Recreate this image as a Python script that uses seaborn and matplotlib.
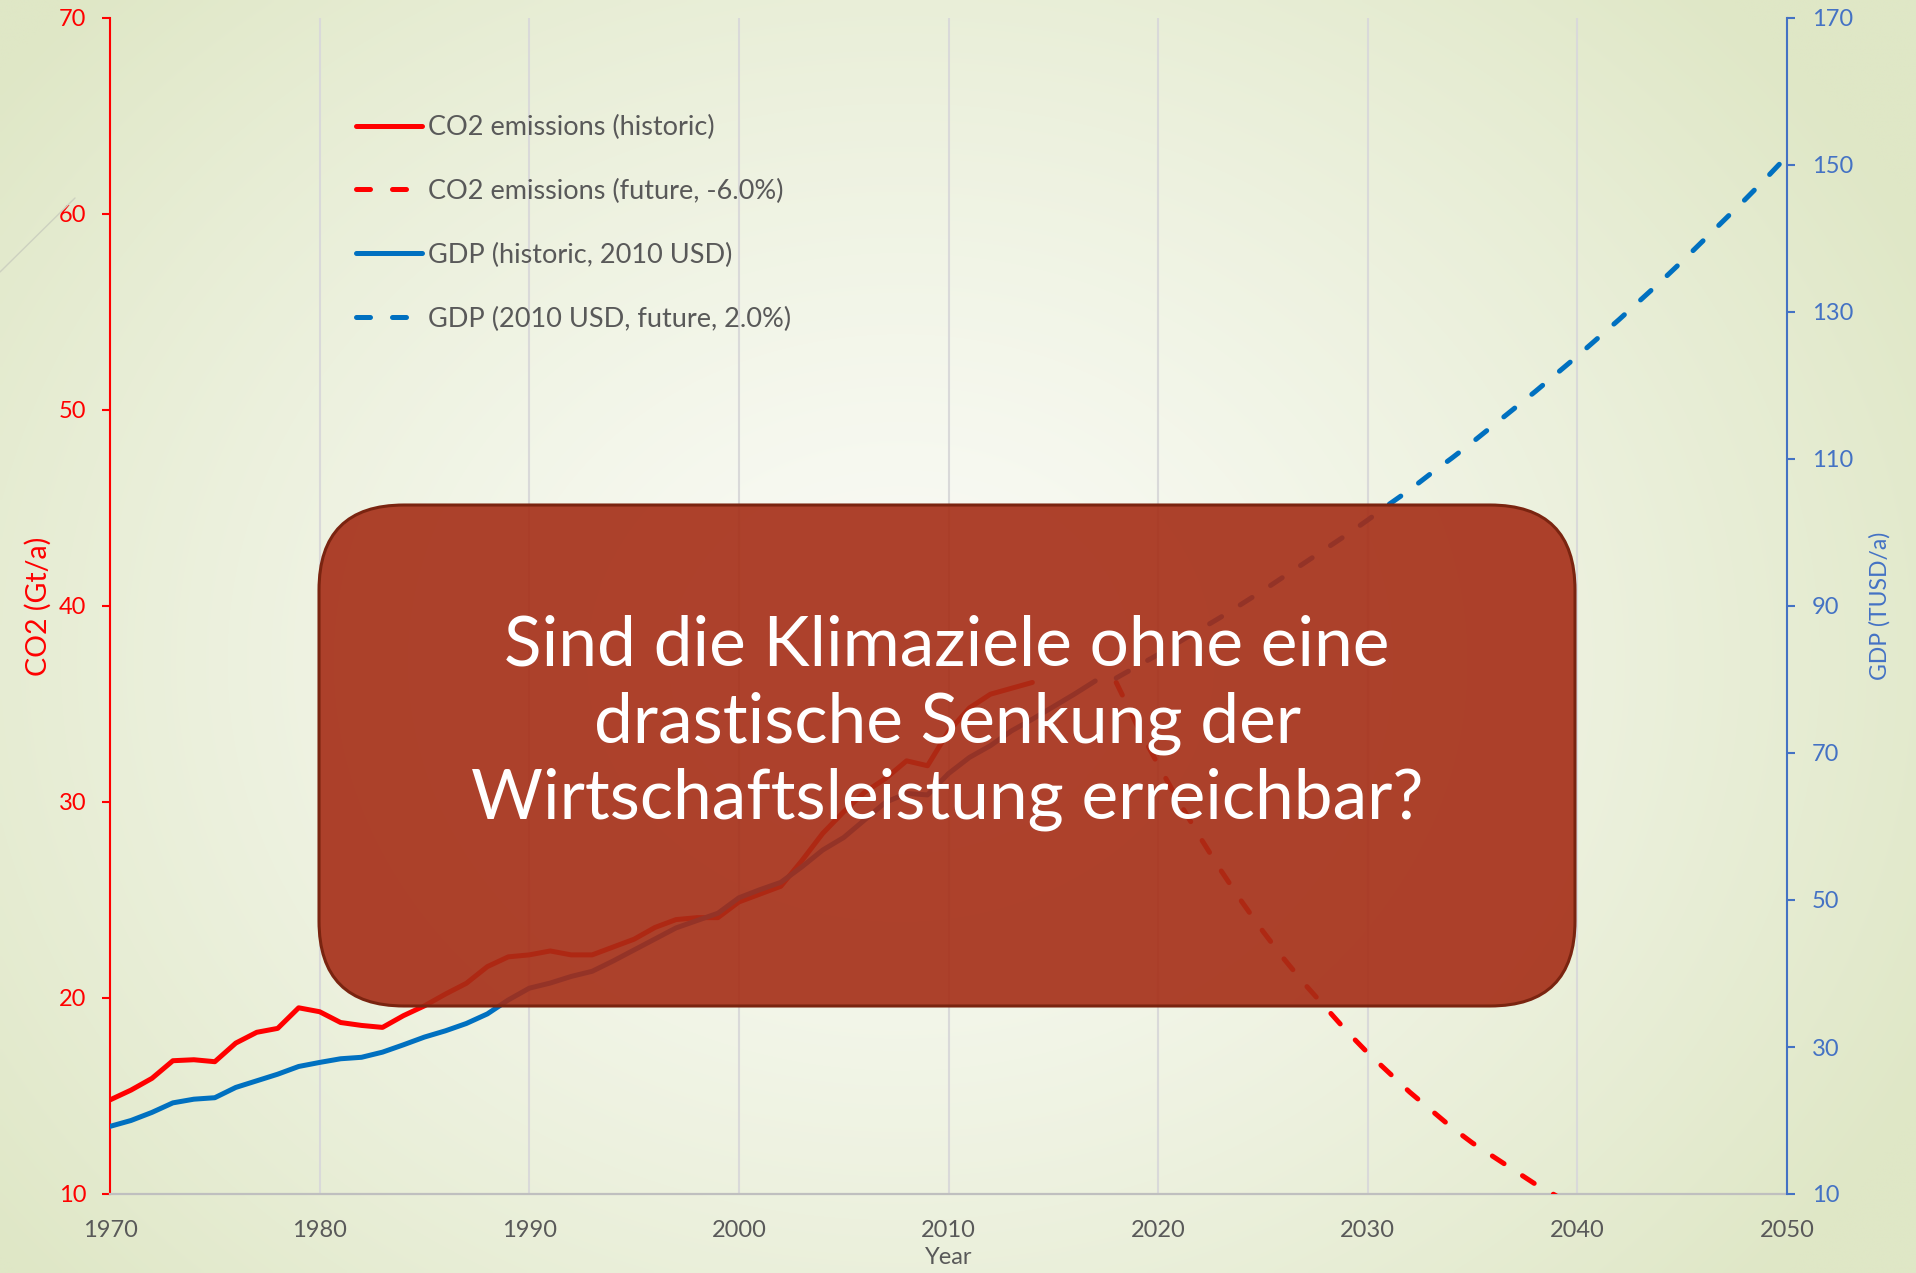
import numpy as np
import pandas as pd
import matplotlib
matplotlib.use("Agg")
import matplotlib.pyplot as plt
import seaborn as sns
from matplotlib.patches import FancyBboxPatch
from matplotlib.transforms import IdentityTransform
from matplotlib.lines import Line2D

# ---------------- data ----------------
co2_hist_years = list(range(1970, 2015))
co2_hist = [14.8, 15.3, 15.9, 16.8, 16.85, 16.75, 17.7, 18.25, 18.45, 19.5,
            19.3, 18.75, 18.6, 18.5, 19.1, 19.6, 20.2, 20.75, 21.6, 22.1,
            22.2, 22.4, 22.2, 22.2, 22.6, 23.0, 23.6, 24.0, 24.1, 24.1,
            24.9, 25.3, 25.7, 27.0, 28.4, 29.5, 30.5, 31.2, 32.1, 31.85,
            33.6, 34.8, 35.5, 35.8, 36.1]

co2_fut_years = list(range(2018, 2040))
co2_fut = [36.1, 33.9, 31.9, 30.0, 28.2, 26.5, 24.9, 23.4, 22.0, 20.7,
           19.5, 18.3, 17.2, 16.2, 15.2, 14.3, 13.4, 12.6, 11.9, 11.2,
           10.5, 9.9]

gdp_hist_years = list(range(1970, 2018))
gdp_hist = [19.2, 20.0, 21.1, 22.4, 22.9, 23.1, 24.5, 25.4, 26.3, 27.35,
            27.9, 28.4, 28.6, 29.3, 30.3, 31.35, 32.2, 33.2, 34.5, 36.4,
            38.0, 38.7, 39.6, 40.3, 41.7, 43.2, 44.7, 46.2, 47.2, 48.2,
            50.3, 51.4, 52.4, 54.5, 56.8, 58.5, 60.9, 63.3, 64.5, 64.3,
            67.2, 69.4, 71.0, 73.0, 74.6, 76.3, 78.0, 79.8]

gdp_fut_years = list(range(2018, 2051))
gdp_fut = [80.2, 81.8, 83.4, 85.1, 86.8, 88.5, 90.3, 92.1, 94.0, 95.9,
           97.8, 99.7, 101.7, 103.8, 105.8, 108.0, 110.1, 112.3, 114.6, 116.9,
           119.2, 121.6, 124.0, 126.5, 129.0, 131.6, 134.2, 136.9, 139.7, 142.5,
           145.3, 148.2, 151.2]

legend_labels = ["CO2 emissions (historic)",
                 "CO2 emissions (future, -6.0%)",
                 "GDP (historic, 2010 USD)",
                 "GDP (2010 USD, future, 2.0%)"]
x_ticks = list(range(1970, 2051, 10))
left_ticks = list(range(10, 71, 10))
right_ticks = list(range(10, 171, 20))
overlay_lines = ["Sind die Klimaziele ohne eine",
                 "drastische Senkung der",
                 "Wirtschaftsleistung erreichbar?"]

df_co2_h = pd.DataFrame({"Year": co2_hist_years, "CO2": co2_hist})
df_co2_f = pd.DataFrame({"Year": co2_fut_years, "CO2": co2_fut})
df_gdp_h = pd.DataFrame({"Year": gdp_hist_years, "GDP": gdp_hist})
df_gdp_f = pd.DataFrame({"Year": gdp_fut_years, "GDP": gdp_fut})

# ---------------- style ----------------
sns.set_style("white")
plt.rcParams["font.family"] = ["Lato", "DejaVu Sans"]

RED = "#FF0000"
BLUE = "#0070C0"
AXBLUE = "#4472C4"
GRAY = "#595959"
LW = 3.6
DASH = (2.8, 4.4)

W, H = 1916, 1273
fig = plt.figure(figsize=(W / 100, H / 100), dpi=100)

# background gradient
bg = fig.add_axes([0, 0, 1, 1], zorder=-10)
gy, gx = np.mgrid[0:1:300j, 0:1:450j]
d = np.sqrt(((gx - 0.47) / 0.60) ** 2 + ((gy - 0.52) / 0.75) ** 2)
t = np.clip(d, 0, 1) ** 1.3
c0 = np.array([250, 251, 246]) / 255
c1 = np.array([223, 231, 198]) / 255
img = c0[None, None, :] * (1 - t[..., None]) + c1[None, None, :] * t[..., None]
bg.imshow(img, extent=[0, 1, 1, 0], aspect="auto", interpolation="bilinear")
bg.set_xlim(0, 1); bg.set_ylim(1, 0)
bg.axis("off")

fig.add_artist(Line2D([0, 75 / W], [1 - 272 / H, 1 - 198 / H], transform=fig.transFigure,
                      color="#CDD1C0", lw=1.0))

ax = fig.add_axes([110 / W, 1 - 1194 / H, (1787 - 110) / W, (1194 - 18) / H])
ax.patch.set_alpha(0)
ax2 = ax.twinx()

sns.lineplot(data=df_co2_h, x="Year", y="CO2", ax=ax, color=RED, lw=LW,
             solid_joinstyle="round", solid_capstyle="round", zorder=3)
sns.lineplot(data=df_co2_f, x="Year", y="CO2", ax=ax, color=RED, lw=LW,
             dashes=DASH, dash_capstyle="round", zorder=3)
sns.lineplot(data=df_gdp_h, x="Year", y="GDP", ax=ax2, color=BLUE, lw=LW,
             solid_joinstyle="round", solid_capstyle="round", zorder=3)
sns.lineplot(data=df_gdp_f, x="Year", y="GDP", ax=ax2, color=BLUE, lw=LW,
             dashes=DASH, dash_capstyle="round", zorder=3)

ax.set_xlim(1970, 2050)
ax.set_ylim(10, 70)
ax2.set_ylim(10, 170)
ax.set_xticks(x_ticks)
ax.set_yticks(left_ticks)
ax2.set_yticks(right_ticks)
ax.grid(axis="x", color="#D9D9D9", lw=1.5)
ax.grid(axis="y", visible=False)
ax2.grid(False)
ax.set_axisbelow(True)

for s in ["top", "right"]:
    ax.spines[s].set_visible(False)
ax.spines["left"].set_color(RED)
ax.spines["left"].set_linewidth(1.5)
ax.spines["bottom"].set_color("#BFBFBF")
ax.spines["bottom"].set_linewidth(1.6)
for s in ["top", "left", "bottom"]:
    ax2.spines[s].set_visible(False)
ax2.spines["right"].set_color(AXBLUE)
ax2.spines["right"].set_linewidth(1.5)

ax.tick_params(axis="y", colors=RED, direction="out", length=6, width=1.5,
               labelsize=17, pad=11, left=True)
ax.tick_params(axis="x", length=0, labelcolor=GRAY, labelsize=17, pad=19)
ax2.tick_params(axis="y", colors=AXBLUE, direction="out", length=6, width=1.5,
                labelsize=17, pad=12, right=True)

ax.set_xlabel("Year", color=GRAY, fontsize=17, labelpad=4)
ax.set_ylabel("CO2 (Gt/a)", color=RED, fontsize=20.5, labelpad=5)
ax2.set_ylabel("GDP (TUSD/a)", color=AXBLUE, fontsize=16.5, labelpad=11)

handles = [
    Line2D([], [], color=RED, lw=LW, solid_capstyle="round"),
    Line2D([], [], color=RED, lw=LW, dashes=DASH, dash_capstyle="round"),
    Line2D([], [], color=BLUE, lw=LW, solid_capstyle="round"),
    Line2D([], [], color=BLUE, lw=LW, dashes=DASH, dash_capstyle="round"),
]
leg = ax2.legend(handles, legend_labels, loc="upper left",
                 bbox_to_anchor=((356 - 110) / 1677, (1194 - 115) / 1176),
                 frameon=False, fontsize=19.5, handlelength=2.45, labelspacing=1.43,
                 handletextpad=0.2, borderaxespad=0, borderpad=0, labelcolor=GRAY)

# overlay box (pixel coordinates)
box = FancyBboxPatch((319, H - 1006), 1575 - 319, 1006 - 505,
                     boxstyle="round,pad=0,rounding_size=85",
                     transform=IdentityTransform(),
                     facecolor=(0.647, 0.176, 0.086, 0.9),
                     edgecolor="#7A2410", lw=2.2, zorder=20)
fig.add_artist(box)
for line, yc in zip(overlay_lines, [646, 723, 799]):
    fig.text(947 / W, 1 - yc / H, line, color="white", fontsize=50,
             ha="center", va="center", zorder=30, fontweight="normal")

fig.savefig("out.png", dpi=100)
